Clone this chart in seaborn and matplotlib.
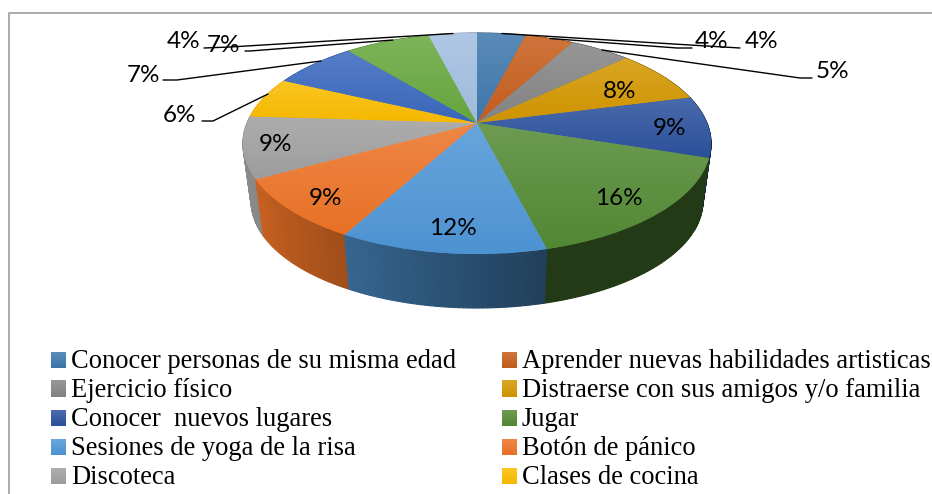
# Actividades preferidas - 3D style pie chart

import numpy as np
import matplotlib
matplotlib.use("Agg")
import matplotlib.pyplot as plt
from matplotlib.transforms import Transform
import seaborn as sns

# Data
values = [4, 4, 5, 8, 9, 16, 12, 9, 9, 6, 7, 7, 4]
legend_labels = [
    "Conocer personas de su misma edad", "Aprender nuevas habilidades artisticas",
    "Ejercicio físico", "Distraerse con sus amigos y/o familia",
    "Conocer  nuevos lugares", "Jugar",
    "Sesiones de yoga de la risa", "Botón de pánico",
    "Discoteca", "Clases de cocina",
]
slice_colors = [
    "#3F78AC", "#C65E1C", "#858585", "#D39600", "#2C529E", "#548A35", "#4F96D6",
    "#EC7327", "#A0A0A0", "#FABC00", "#3A68BE", "#68A83F", "#A2BEE0",
]

sns.set_style("white")
plt.rcParams["font.family"] = ["Lato", "DejaVu Sans"]
palette = sns.color_palette(slice_colors)

# Layout of the page, in pixels
label_pos = [
    (762, 41), (712, 41), (832, 71), (620, 91), (670, 128), (619, 198), (453, 228),
    (325, 198), (276, 144), (180, 115), (143, 75), (224, 45), (184, 41),
]
leaders = [
    [(502, 33.5), (690, 45), (740, 48)],
    [(550, 38.5), (677, 48), (692, 48)],
    [(602, 50), (800, 78), (812, 78)],
    [(268, 94), (213, 121), (202, 121)],
    [(321, 61), (177, 80), (163, 80)],
    [(393, 40), (250, 51), (245, 51)],
    [(453, 33.5), (230, 47), (204, 48)],
]


class Perspective(Transform):
    # maps the unit pie onto the tilted disc, output in pixels
    input_dims = 2
    output_dims = 2

    def __init__(self, scale=1.0, dy=0.0):
        super().__init__()
        self.scale = scale
        self.dy = dy

    def transform_non_affine(self, values):
        values = np.asarray(values, dtype=float)
        w = 1 + 0.1855 * values[:, 1]
        px = 477 + self.scale * 230 * values[:, 0] / w
        py = 123 + self.dy - self.scale * 106.7 * values[:, 1] / w
        return np.column_stack([px, py])


def ring(theta, proj):
    t = np.radians(theta)
    return proj.transform_non_affine(np.column_stack([np.cos(t), np.sin(t)]))


def gradient(color, n=32):
    color = np.array(color)
    top = color + (1 - color) * 0.14
    bottom = color * 0.98
    return np.linspace(top, bottom, n)[:, None, :]


fig, ax = plt.subplots(figsize=(9.32, 4.94), dpi=100)
fig.subplots_adjust(0, 0, 1, 1)

wedges, _ = ax.pie(values, colors=palette, startangle=90, counterclock=False)
top_proj = Perspective()
bottom_proj = Perspective(scale=0.965, dy=58.6)

# Side wall, back to front
quads = []
for wedge, color in zip(wedges, palette):
    steps = np.arange(wedge.theta1, wedge.theta2 + 0.01, 1.0)
    steps = np.append(steps[steps < wedge.theta2], wedge.theta2)
    for a, b in zip(steps[:-1], steps[1:]):
        mid = (a + b) / 2 % 360
        shade = np.interp(mid, [0, 180, 209, 241, 284, 360], [0.42, 0.9, 0.85, 0.68, 0.42, 0.42])
        quads.append((np.sin(np.radians(mid)), a, b, np.array(color) * shade))

quads.sort(key=lambda q: -q[0])
for _, a, b, c in quads:
    pts = np.vstack([ring([a, b], top_proj), ring([b, a], bottom_proj)])
    ax.fill(pts[:, 0], pts[:, 1], color=c, lw=0.8, zorder=2)

# Top face with a vertical gradient in each slice
for wedge, color in zip(wedges, palette):
    wedge.set_transform(top_proj + ax.transData)
    wedge.set_zorder(3)
    wedge.set_linewidth(0)
    pts = ring(np.linspace(wedge.theta1, wedge.theta2, 40), top_proj)
    x0, x1 = min(pts[:, 0].min(), 477), max(pts[:, 0].max(), 477)
    y0, y1 = min(pts[:, 1].min(), 123), max(pts[:, 1].max(), 123)
    im = ax.imshow(gradient(color), extent=(x0, x1, y1, y0), aspect="auto",
                   interpolation="bilinear", zorder=4)
    im.set_clip_path(wedge)

# Percent labels and leader lines
for v, (x, y) in zip(values, label_pos):
    ax.text(x, y, f"{v}%", fontsize=17.5, color="black", ha="center", va="center", zorder=6)
for line in leaders:
    xs, ys = zip(*line)
    ax.plot(xs, ys, color="black", lw=1, zorder=5)

# Legend, cut by the bottom of the picture like the original
for i, label in enumerate(legend_labels):
    row, col = divmod(i, 2)
    x = [51, 502][col]
    y = 360 + row * 29
    ax.imshow(gradient(palette[i], 8), extent=(x, x + 15, y + 8, y - 8), aspect="auto",
              interpolation="bilinear", zorder=4)
    ax.text(x + 20, y + 8, label, fontsize=19.1, family="Liberation Serif", ha="left",
            va="baseline", color="black", zorder=6)

# Chart frame
ax.plot([9, 9, 932], [494, 13, 13], color="#ABABAB", lw=1.4, zorder=1)

ax.set_aspect("auto")
ax.set_xlim(0, 932)
ax.set_ylim(494, 0)
ax.set_position([0, 0, 1, 1])
ax.axis("off")

fig.savefig("out.png", dpi=100, facecolor="white")
